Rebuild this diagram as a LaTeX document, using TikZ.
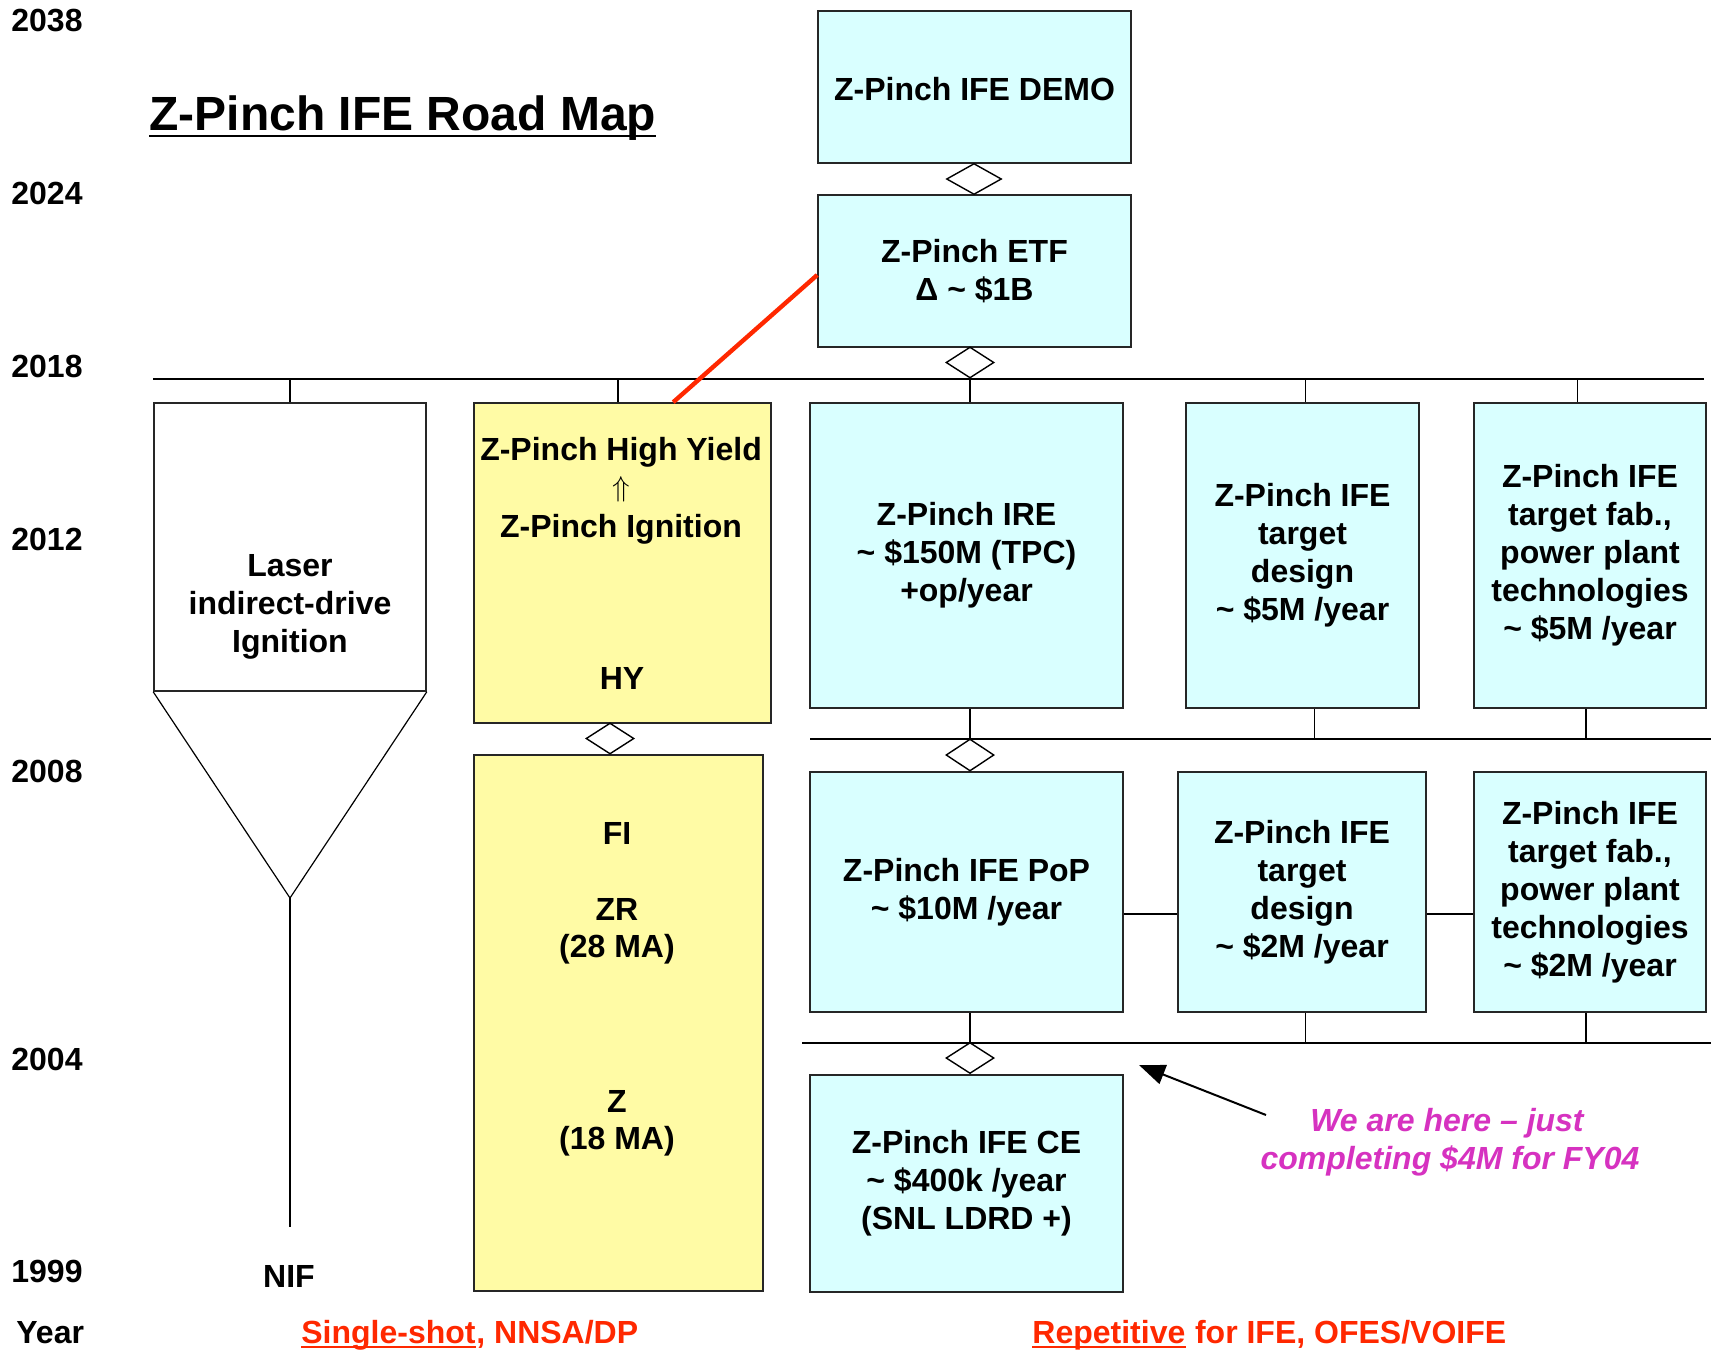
\documentclass[tikz,border=0pt]{standalone}
\usepackage{fontspec}
\setmainfont{Liberation Sans}
\usetikzlibrary{fit,shapes.geometric,arrows.meta,calc}
\definecolor{cyanfill}{RGB}{217,255,255}
\definecolor{yelfill}{RGB}{255,251,165}
\definecolor{redline}{RGB}{255,40,0}
\definecolor{notecol}{RGB}{214,50,192}
\newcommand{\bxf}{\fontsize{16pt}{19pt}\selectfont\bfseries}
\newcommand{\lblf}{\fontsize{16pt}{19pt}\selectfont\bfseries}
\begin{document}
\begin{tikzpicture}[x=0.5pt,y=-0.5pt,
  box/.style={draw=black!85, line width=0.8pt, inner sep=0pt},
  cbox/.style={box, fill=cyanfill},
  ybox/.style={box, fill=yelfill},
  wbox/.style={box, fill=white},
  boxtxt/.style={inner sep=0pt, font=\bxf, align=center},
  txt/.style={inner sep=0pt, font=\bxf, anchor=base},
  yearlab/.style={inner sep=0pt, font=\lblf, anchor=base west},
  dia/.style={diamond, draw, fill=white, line width=0.7pt, inner sep=0pt, minimum width=24pt, minimum height=15.5pt},
  bus/.style={line width=1pt},
  tick/.style={line width=0.7pt},
  thinline/.style={line width=0.6pt},
  foot/.style={inner sep=0pt, font=\lblf, text=redline, anchor=base west},
  note/.style={inner sep=0pt, font=\lblf\itshape, text=notecol, anchor=base},
]
\useasboundingbox (0,0) rectangle (1711,1349);

% year labels
\node[yearlab] (y2038) at (11,32) {2038};
\node[yearlab] (y2024) at (11,204) {2024};
\node[yearlab] (y2018) at (11,377) {2018};
\node[yearlab] (y2012) at (11,550) {2012};
\node[yearlab] (y2008) at (11,782) {2008};
\node[yearlab] (y2004) at (11,1070) {2004};
\node[yearlab] (y1999) at (11,1282) {1999};
\node[yearlab] (yyear) at (16,1343) {Year};

% title
\node[inner sep=0pt, font=\fontsize{24pt}{28pt}\selectfont\bfseries, anchor=base west] (title) at (149,130) {Z-Pinch IFE Road Map};
\draw[line width=1.2pt] ([yshift=-3pt]title.base west) -- ([yshift=-3pt]title.base east);

% boxes
\node[cbox, fit={(818,11) (1131,163)}] (demo) {};
\node[cbox, fit={(818,195) (1131,347)}] (etf) {};
\node[wbox, fit={(154,403) (426,691)}] (laser) {};
\node[ybox, fit={(474,403) (771,723)}] (hy) {};
\node[ybox, fit={(474,755) (763,1291)}] (zr) {};
\node[cbox, fit={(810,403) (1123,708)}] (ire) {};
\node[cbox, fit={(1186,403) (1419,708)}] (tdA) {};
\node[cbox, fit={(1474,403) (1706,708)}] (fabA) {};
\node[cbox, fit={(810,772) (1123,1012)}] (pop) {};
\node[cbox, fit={(1178,772) (1426,1012)}] (tdB) {};
\node[cbox, fit={(1474,772) (1706,1012)}] (fabB) {};
\node[cbox, fit={(810,1075) (1123,1292)}] (ce) {};

% box texts
\node[boxtxt] (demoT) at ([yshift=-1pt]demo.center) {Z-Pinch IFE DEMO};
\node[boxtxt] (etfT) at (etf.center) {Z-Pinch ETF\\Δ \textasciitilde\ \$1B};
\node[boxtxt] (ireT) at (ire.center) {Z-Pinch IRE\\\textasciitilde\ \$150M (TPC)\\+op/year};
\node[boxtxt] (tdAT) at (tdA.center) {Z-Pinch IFE\\target\\design\\\textasciitilde\ \$5M /year};
\node[boxtxt] (fabAT) at (fabA.center) {Z-Pinch IFE\\target fab.,\\power plant\\technologies\\\textasciitilde\ \$5M /year};
\node[boxtxt] (popT) at (pop.center) {Z-Pinch IFE PoP\\\textasciitilde\ \$10M /year};
\node[boxtxt] (tdBT) at (tdB.center) {Z-Pinch IFE\\target\\design\\\textasciitilde\ \$2M /year};
\node[boxtxt] (fabBT) at (fabB.center) {Z-Pinch IFE\\target fab.,\\power plant\\technologies\\\textasciitilde\ \$2M /year};
\node[boxtxt] (ceT) at (ce.center) {Z-Pinch IFE CE\\\textasciitilde\ \$400k /year\\(SNL LDRD +)};

% laser column
\node[boxtxt] (lasertxt) at (290,607) {Laser\\indirect-drive\\Ignition};
\coordinate (apex) at (290,898);
\coordinate (nifend) at (290,1227);
\draw[thinline] (laser.south west) -- (apex) -- (laser.south east);
\draw[thinline] (apex) -- (nifend);
\node[txt] (nif) at (289,1287) {NIF};

% yellow boxes text
\node[txt] (hyA) at (621,460) {Z-Pinch High Yield};
\node[inner sep=0pt, font=\fontsize{14pt}{16pt}\selectfont] (hyArr) at (621,489) {$\Uparrow$};
\node[txt] (hyB) at (621,537) {Z-Pinch Ignition};
\node[txt] (hyC) at (622,689) {HY};
\node[txt] (fi) at (617,844) {FI};
\node[txt] (zrA) at (617,920) {ZR};
\node[txt] (zrB) at (617,957) {(28 MA)};
\node[txt] (zA) at (617,1112) {Z};
\node[txt] (zB) at (617,1149) {(18 MA)};

% diamonds
\node[dia, minimum width=27.5pt] (d1) at (974,179) {};
\node[dia] (d2) at (970,362.5) {};
\node[dia] (d3) at (610,738.5) {};
\node[dia, minimum height=16pt] (d4) at (970,755) {};
\node[dia] (d5) at (970,1058) {};

% 2018 bus
\coordinate (b18w) at (153,379);
\coordinate (b18e) at (1704,379);
\draw[tick] (b18w) -- (b18e);
\draw[tick] (laser.north) -- (laser.north |- b18w);
\draw[tick] ([xshift=-2.25pt]hy.north) -- ([xshift=-2.25pt]hy.north |- b18w);
\draw[tick] (d2.south) -- (d2.south |- ire.north);
\draw[tick] ([xshift=1.5pt]tdA.north) -- ([xshift=1.5pt]tdA.north |- b18w);
\draw[tick] ([xshift=-6.25pt]fabA.north) -- ([xshift=-6.25pt]fabA.north |- b18w);

% 2008 bus
\coordinate (b12w) at (810,739);
\coordinate (b12e) at (1711,739);
\draw[bus] (b12w) -- (b12e);
\draw[tick] (ire.south -| d4.north) -- (d4.north);
\draw[tick] ([xshift=6pt]tdA.south) -- ([xshift=6pt]tdA.south |- b12w);
\draw[tick] ([xshift=-2pt]fabA.south) -- ([xshift=-2pt]fabA.south |- b12w);

% 2004 bus
\coordinate (b04w) at (802,1043);
\coordinate (b04e) at (1711,1043);
\draw[bus] (b04w) -- (b04e);
\draw[tick] (pop.south -| d5.north) -- (d5.north);
\draw[tick] ([xshift=1.75pt]tdB.south) -- ([xshift=1.75pt]tdB.south |- b04w);
\draw[tick] ([xshift=-2pt]fabB.south) -- ([xshift=-2pt]fabB.south |- b04w);

% side links
\draw[tick] ([yshift=-11pt]pop.east) -- ([yshift=-11pt]pop.east -| tdB.west);
\draw[tick] ([yshift=-11pt]tdB.east) -- ([yshift=-11pt]tdB.east -| fabB.west);

% red link
\draw[redline, line width=2.2pt] ([xshift=100pt]hy.north west) -- ([yshift=-2pt]etf.west);

% note
\coordinate (noteTail) at (1266,1115);
\coordinate (here) at (1139,1065);
\draw[line width=1pt, -{Triangle[length=13pt, width=10pt]}] (noteTail) -- (here);
\node[note] (noteA) at (1447,1131) {We are here – just};
\node[note] (noteB) at (1450,1169) {completing \$4M for FY04};

% footer
\node[foot] (ssA) at (301,1343) {Single-shot};
\node[foot] (ssB) at (ssA.base east) {, NNSA/DP};
\draw[redline, line width=1.1pt] ([yshift=-2pt]ssA.base west) -- ([yshift=-2pt]ssA.base east);
\node[foot] (repA) at (1032,1343) {Repetitive};
\node[foot] (repB) at (repA.base east) {\ for IFE, OFES/VOIFE};
\draw[redline, line width=1.1pt] ([yshift=-2pt]repA.base west) -- ([yshift=-2pt]repA.base east);
\end{tikzpicture}
\end{document}
